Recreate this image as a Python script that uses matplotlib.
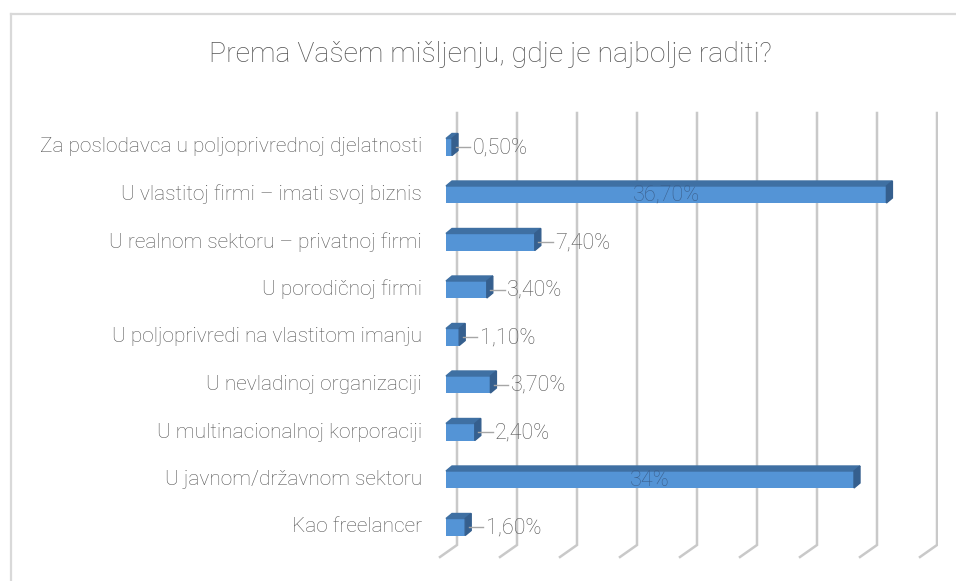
import matplotlib
matplotlib.use("Agg")
import matplotlib.pyplot as plt
from matplotlib.patches import Polygon
from matplotlib.lines import Line2D

plt.rcParams['font.family'] = ['Roboto', 'DejaVu Sans']
plt.rcParams['font.weight'] = 'light'

# ---- data ----
categories = [
    "Za poslodavca u poljoprivrednoj djelatnosti",
    "U vlastitoj firmi \u2013 imati svoj biznis",
    "U realnom sektoru \u2013 privatnoj firmi",
    "U porodi\u010dnoj firmi",
    "U poljoprivredi na vlastitom imanju",
    "U nevladinoj organizaciji",
    "U multinacionalnoj korporaciji",
    "U javnom/dr\u017eavnom sektoru",
    "Kao freelancer",
]
values = [0.5, 36.7, 7.4, 3.4, 1.1, 3.7, 2.4, 34.0, 1.6]
value_labels = ["0,50%", "36,70%", "7,40%", "3,40%", "1,10%", "3,70%", "2,40%", "34%", "1,60%"]
grid_ticks = [0, 5, 10, 15, 20, 25, 30, 35, 40]
title = "Prema Va\u0161em mi\u0161ljenju, gdje je najbolje raditi?"

# ---- colours ----
front_c = "#5494d6"
top_c = "#3f70a3"
side_c = "#355f8e"
grid_c = "#c9c9c9"
text_c = "#555555"

W, H = 956, 581
fig = plt.figure(figsize=(W / 100, H / 100), dpi=100)

# axes placed so that 1% = 12 px, rows 47.5 px apart
ax_left, ax_right, ax_top, ax_bot = 434, 938, 100, 570
ax = fig.add_axes([ax_left / W, 1 - ax_bot / H, (ax_right - ax_left) / W, (ax_bot - ax_top) / H])
ppx = 12.0    # px per percent
ppy = 47.5    # px per row
x0 = -1.0
y_first = 147
ax.set_xlim(x0, x0 + (ax_right - ax_left) / ppx)
ax.set_ylim((ax_bot - y_first) / ppy, (ax_top - y_first) / ppy)
ax.axis("off")

# back wall gridlines with little floor feet
gx = 11 / ppx
g_top = (113 - y_first) / ppy
g_bot = (545 - y_first) / ppy
for g in grid_ticks:
    xs = [g + gx, g + gx, g + gx - 17 / ppx]
    ys = [g_top, g_bot, g_bot + 12 / ppy]
    ax.plot(xs, ys, color=grid_c, lw=1.8, solid_joinstyle="miter", zorder=1)

# 3D-looking bars
h = 17 / ppy
dx = 6 / ppx
dy = 5 / ppy
ypos = list(range(len(categories)))
ax.barh(ypos, values, height=h, color=front_c, zorder=3)
for y, v, lab in zip(ypos, values, value_labels):
    top = y - h / 2
    bot = y + h / 2
    ax.add_patch(Polygon([(0, top), (v, top), (v + dx, top - dy), (dx, top - dy)],
                         closed=True, color=top_c, zorder=3))
    ax.add_patch(Polygon([(v, top), (v + dx, top - dy), (v + dx, bot - dy), (v, bot)],
                         closed=True, color=side_c, zorder=3))
    if v > 20:
        ax.text(v / 2, y + 0.02, lab, ha="center", va="center", fontsize=15.5,
                color="#3b5f8c", zorder=5)
    else:
        lx = v + 1.7
        ax.plot([v + dx * 0.6, lx - 0.2], [y, y], color="#a6a6a6", lw=1, zorder=4)
        ax.text(lx, y + 0.02, lab, ha="left", va="center", fontsize=15.5,
                color=text_c, zorder=5)

# category labels
for y, c in zip(ypos, categories):
    ax.text(-2.0, y, c, ha="right", va="center", fontsize=15, color=text_c, clip_on=False)

fig.text(490 / W, 1 - 55 / H, title, ha="center", va="center", fontsize=20.5, color=text_c)

# chart frame (cropped at right and bottom)
fig.add_artist(Line2D([10.5 / W, 10.5 / W], [0, 1 - 13.5 / H], color="#d9d9d9", lw=1.6,
                      transform=fig.transFigure))
fig.add_artist(Line2D([10.5 / W, 1], [1 - 13.5 / H, 1 - 13.5 / H], color="#d9d9d9", lw=1.6,
                      transform=fig.transFigure))

fig.savefig("out.png", dpi=100, facecolor="white")
